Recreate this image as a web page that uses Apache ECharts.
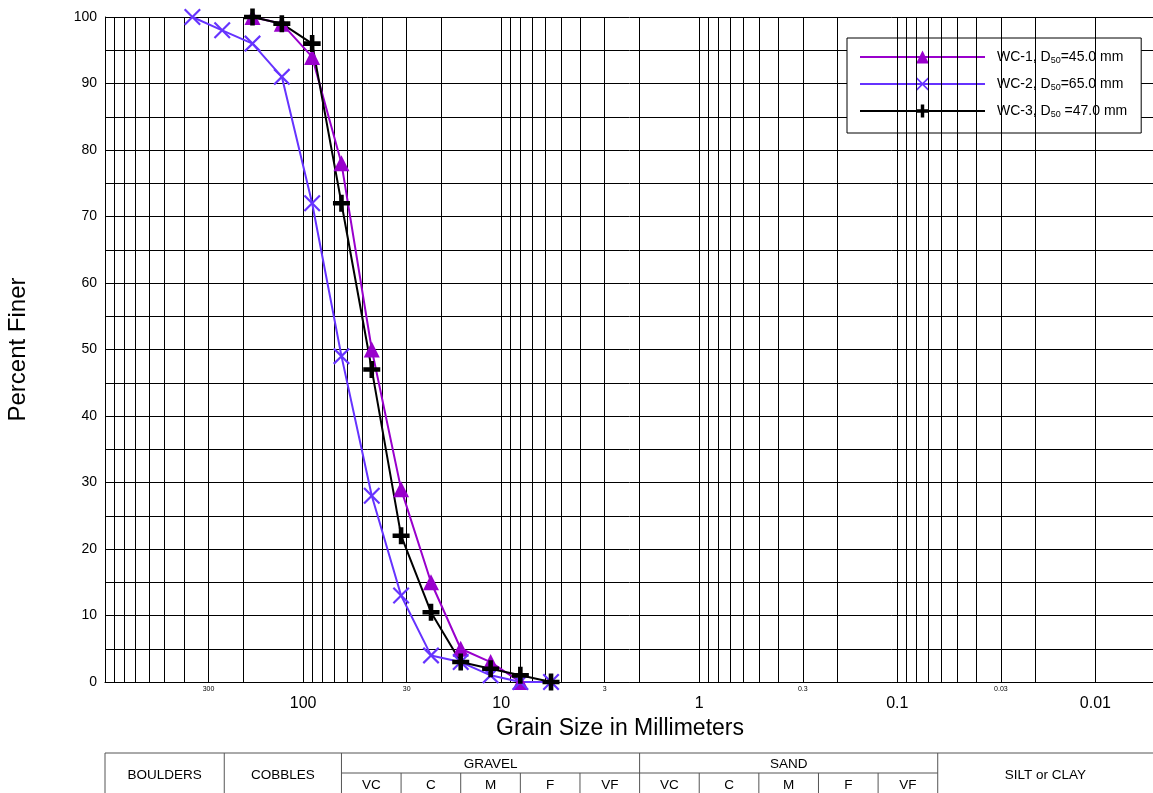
<!DOCTYPE html>
<html><head><meta charset="utf-8">
<script src="https://cdn.jsdelivr.net/npm/echarts@6/dist/echarts.min.js"></script>
<style>html,body{margin:0;padding:0;background:#fff}#c{width:1153px;height:793px}</style>
</head><body><div id="c"></div>
<script>
// ---- data ----
const sieveSizes = [362, 256, 180, 128, 90, 64, 45, 32, 22.6, 16, 11.3, 8, 5.6];
const wc1 = [null, null, 100, 99, 94, 78, 50, 29, 15, 5, 3, 0, null];
const wc2 = [100, 98, 96, 91, 72, 49, 28, 13, 4, 3, 1, 0, 0];
const wc3 = [null, null, 100, 99, 96, 72, 47, 22, 10.5, 3, 2, 1, 0];
const seriesNames = ['WC-1', 'WC-2', 'WC-3'];
const legendLabels = ['WC-1, D{sub|50}=45.0 mm', 'WC-2, D{sub|50}=65.0 mm', 'WC-3, D{sub|50} =47.0 mm'];
const majorTickValues = [100, 10, 1, 0.1, 0.01];
const majorTickLabels = ['100', '10', '1', '0.1', '0.01'];
const minorTickValues = [300, 30, 3, 0.3, 0.03];
const minorTickLabels = ['300', '30', '3', '0.3', '0.03'];
const xMin = 0.005, xMax = 1000;
// size classes table
const classNames = ['BOULDERS', 'COBBLES', 'GRAVEL', 'SAND', 'SILT or CLAY'];
const classBounds = [1000, 250, 64, 2, 0.0625, 0.005];
const gravelBounds = [64, 32, 16, 8, 4, 2];
const sandBounds = [2, 1, 0.5, 0.25, 0.125, 0.0625];
const subNames = ['VC', 'C', 'M', 'F', 'VF'];

const FONT = '"Liberation Sans", Arial, sans-serif';
const colors = ['#9900cc', '#6633ff', '#000000'];
const xPath = 'path://M0,1.8 L1.8,0 L10,8.2 L18.2,0 L20,1.8 L11.8,10 L20,18.2 L18.2,20 L10,11.8 L1.8,20 L0,18.2 L8.2,10 Z';
const plusPath = 'path://M7.3,0 L12.7,0 L12.7,7.3 L20,7.3 L20,12.7 L12.7,12.7 L12.7,20 L7.3,20 L7.3,12.7 L0,12.7 L0,7.3 L7.3,7.3 Z';
const symbols = ['triangle', xPath, plusPath];
const symbolSizes = [16, 17, 17];

function pairs(vals) {
  const out = [];
  vals.forEach((v, i) => { if (v !== null) out.push([sieveSizes[i], v]); });
  return out;
}
const allValues = [wc1, wc2, wc3];

// log grid line positions
const gridVals = [];
[0.001, 0.01, 0.1, 1, 10, 100].forEach(d => {
  for (let m = 1; m <= 9; m++) {
    const v = +(m * d).toPrecision(6);
    if (v >= xMin && v <= xMax) gridVals.push(v);
  }
});
gridVals.push(1000);

const chart = echarts.init(document.getElementById('c'), null, {renderer: 'canvas'});

const dataSeries = seriesNames.map((n, i) => ({
  name: n, type: 'line', z: 5,
  data: pairs(allValues[i]),
  symbol: symbols[i], symbolSize: symbolSizes[i],
  lineStyle: {color: colors[i], width: 2},
  itemStyle: {color: colors[i], borderWidth: 0},
  animation: false
}));

function sameVal(a, b) { return Math.abs(Math.log10(a) - Math.log10(b)) < 1e-6; }

const option = {
  animation: false,
  textStyle: {fontFamily: FONT},
  grid: {left: 105, top: 17, width: 1050, height: 665, containLabel: false, outerBoundsMode: 'none'},
  xAxis: {
    type: 'log', logBase: 10, inverse: true, min: xMin, max: xMax,
    name: 'Grain Size in Millimeters', nameLocation: 'middle', nameGap: 32,
    nameTextStyle: {fontSize: 23, color: '#000', fontFamily: FONT, padding: [0, 20, 0, 0]},
    axisLine: {show: true, lineStyle: {color: '#000', width: 1}},
    axisTick: {show: false},
    splitLine: {show: false},
    axisLabel: {
      color: '#000', fontSize: 16, fontFamily: FONT, margin: 14,
      showMinLabel: false, showMaxLabel: false,
      formatter: function (v) {
        for (let i = 0; i < majorTickValues.length; i++) if (sameVal(v, majorTickValues[i])) return majorTickLabels[i];
        return '';
      }
    }
  },
  yAxis: {
    type: 'value', min: 0, max: 100, interval: 5,
    name: 'Percent Finer', nameLocation: 'middle', nameGap: 75, nameRotate: 90,
    nameTextStyle: {fontSize: 24, color: '#000', fontFamily: FONT},
    axisLine: {show: true, lineStyle: {color: '#000', width: 1}},
    axisTick: {show: false},
    splitLine: {show: true, lineStyle: {color: '#000', width: 1}},
    axisLabel: {color: '#000', fontSize: 14, fontFamily: FONT, margin: 8,
      formatter: v => (v % 10 === 0 ? String(v) : '')}
  },
  legend: {
    orient: 'vertical', left: 847, top: 38,
    data: seriesNames,
    backgroundColor: '#fff', borderColor: '#000', borderWidth: 1,
    padding: [12, 14, 14, 12], itemGap: 12, itemWidth: 125, itemHeight: 16,
    formatter: name => legendLabels[seriesNames.indexOf(name)],
    textStyle: {fontSize: 14, color: '#000', fontFamily: FONT, padding: [0, 0, 0, 7],
      rich: {sub: {fontSize: 9, verticalAlign: 'bottom', padding: [7, 0, 0, 0], fontFamily: FONT, color: '#000'}}}
  },
  series: [
    {
      name: 'grid', type: 'line', data: [], z: 1, silent: true,
      markLine: {
        silent: true, symbol: ['none', 'none'], animation: false,
        lineStyle: {color: '#000', width: 1, type: 'solid'},
        label: {show: false},
        data: gridVals.map(v => ({xAxis: v}))
      }
    },
    {
      name: 'minorlabels', type: 'line', data: [], z: 1, silent: true,
      markLine: {
        silent: true, symbol: ['none', 'none'], animation: false,
        lineStyle: {color: '#000', width: 1, type: 'solid'},
        label: {show: true, position: 'start', distance: 4, fontSize: 7, color: '#000', fontFamily: FONT},
        data: minorTickValues.map((v, i) => ({xAxis: v, label: {formatter: minorTickLabels[i]}}))
      }
    }
  ].concat(dataSeries)
};
chart.setOption(option);

// size-class table below the chart, positioned through the x axis scale
function px(v) { return chart.convertToPixel({xAxisIndex: 0}, v); }
const T0 = 753, T1 = 773, T2 = 800, W = 1153;
const lineStyle = {stroke: '#555', lineWidth: 1};
const g = [];
function hline(x1, x2, y) { g.push({type: 'line', shape: {x1: x1, y1: y, x2: x2, y2: y}, style: lineStyle, silent: true}); }
function vline(x, y1, y2) { g.push({type: 'line', shape: {x1: x, y1: y1, x2: x, y2: y2}, style: lineStyle, silent: true}); }
function text(s, cx, cy) { g.push({type: 'text', x: cx, y: cy, silent: true, style: {text: s, fill: '#000', font: '13.5px ' + FONT, textAlign: 'center', textVerticalAlign: 'middle'}}); }
const xs = classBounds.map(px);
xs[xs.length - 1] = W;
hline(xs[0], W, T0);
for (let i = 0; i < xs.length - 1; i++) vline(xs[i], T0, T2);
hline(px(gravelBounds[0]), px(sandBounds[sandBounds.length - 1]), T1);
text(classNames[0], (xs[0] + xs[1]) / 2, 775);
text(classNames[1], (xs[1] + xs[2]) / 2, 775);
text(classNames[2], (xs[2] + xs[3]) / 2, 764);
text(classNames[3], (xs[3] + xs[4]) / 2, 764);
text(classNames[4], (xs[4] + W) / 2, 775);
[gravelBounds, sandBounds].forEach(b => {
  for (let i = 0; i < subNames.length; i++) {
    const a = px(b[i]), c = px(b[i + 1]);
    if (i > 0) vline(a, T1, T2);
    text(subNames[i], (a + c) / 2, 785);
  }
});
chart.setOption({graphic: g});
</script>
</body></html>
